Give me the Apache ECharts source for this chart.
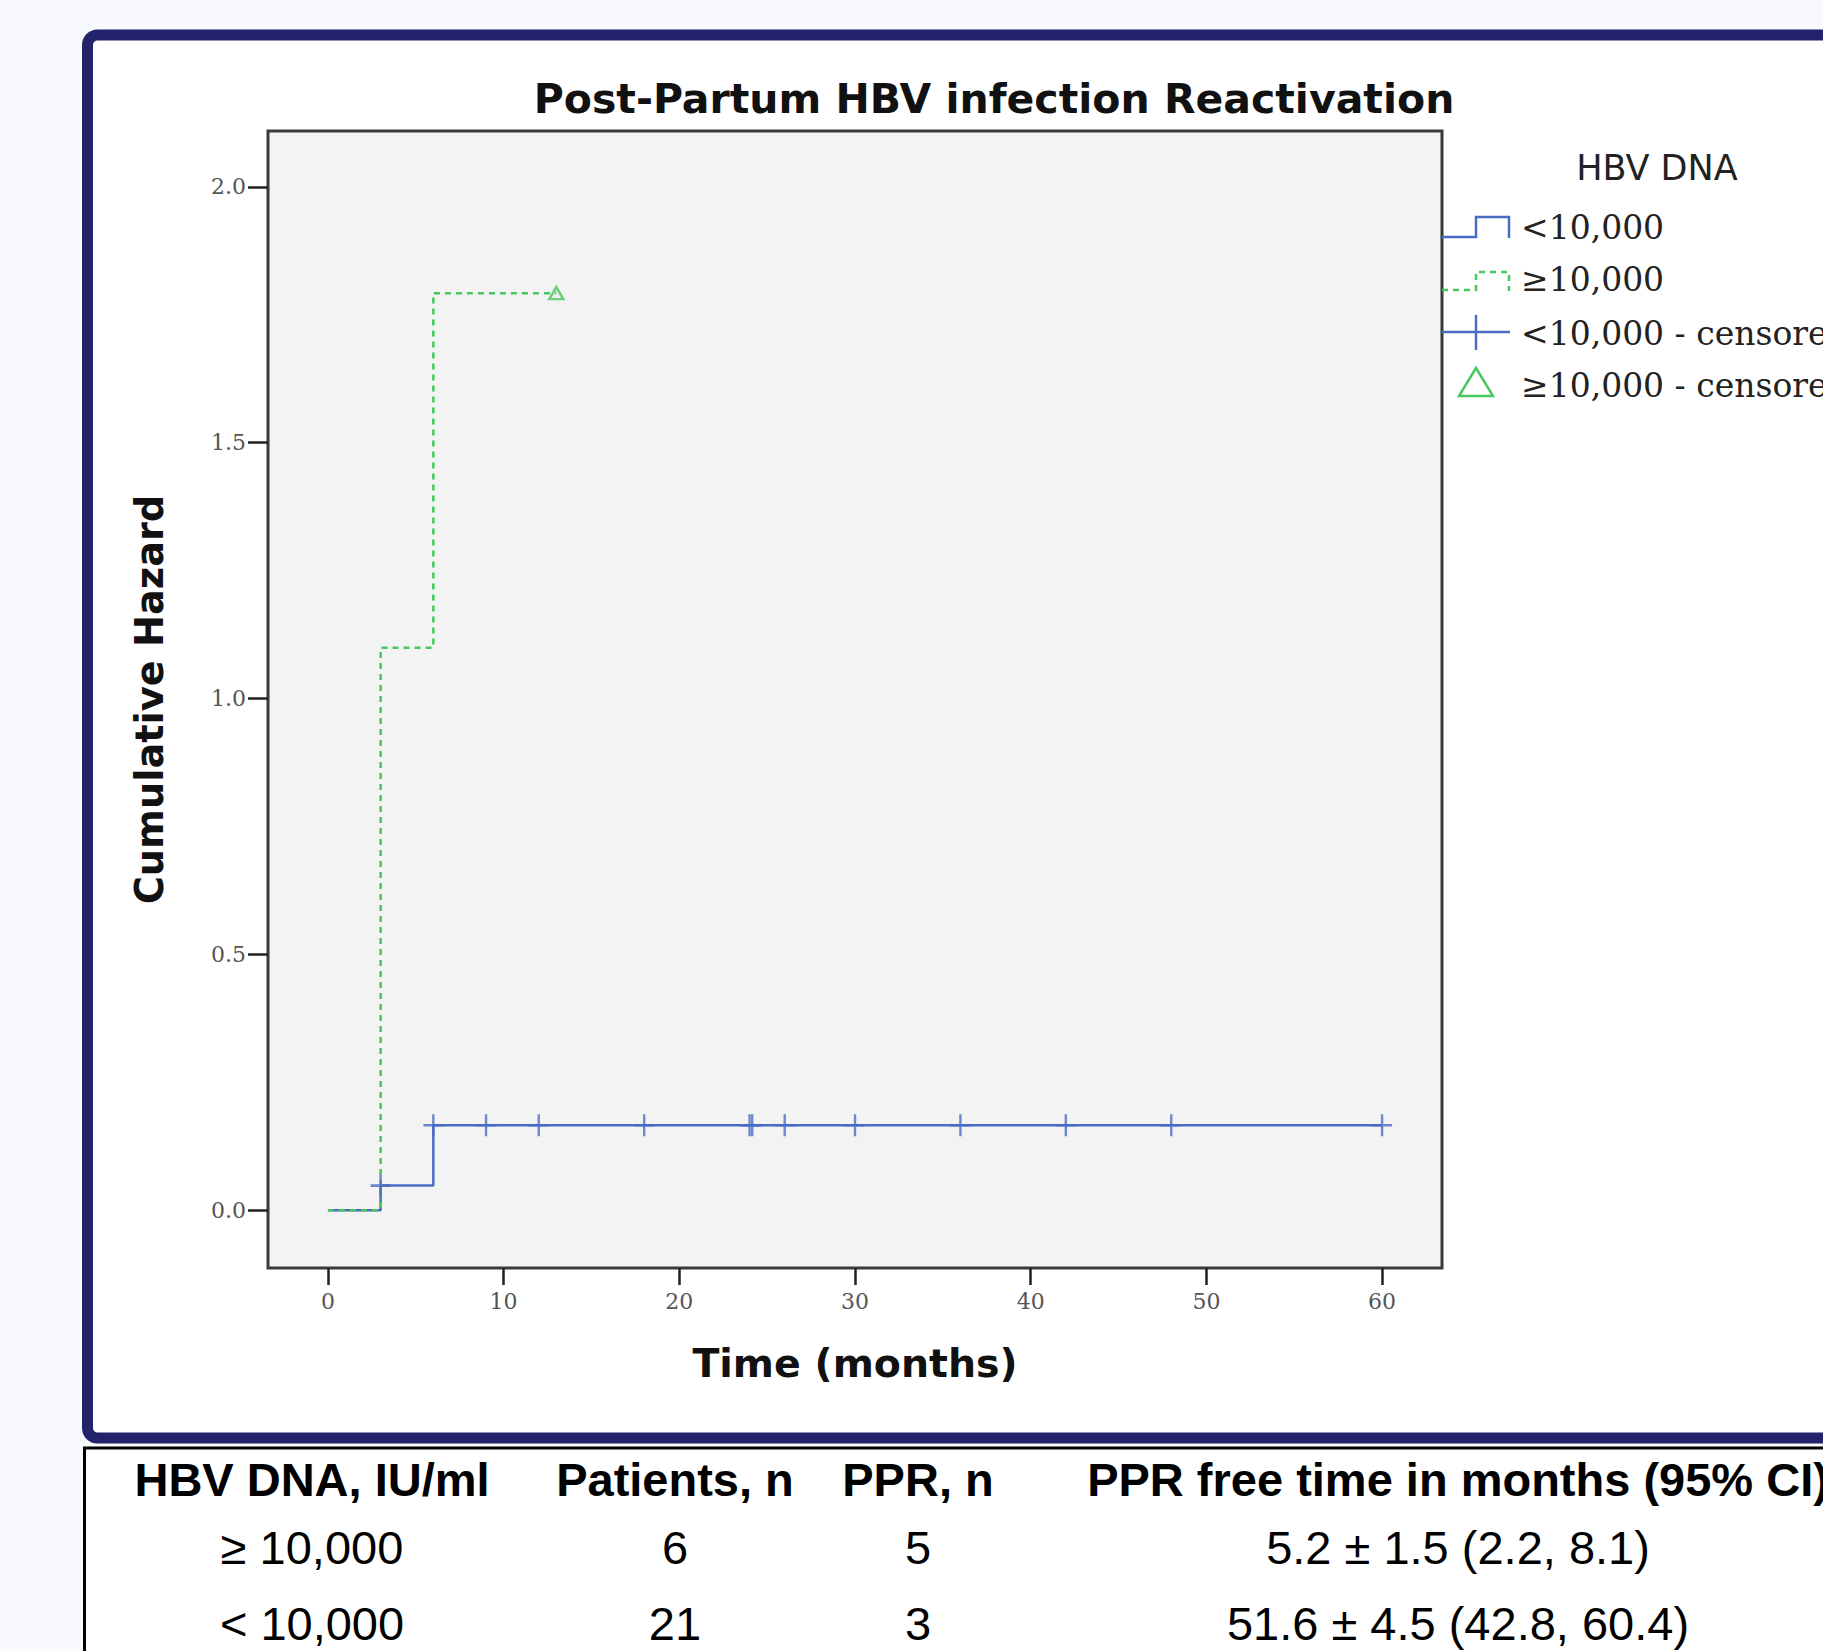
<!DOCTYPE html>
<html>
<head>
<meta charset="utf-8">
<script src="https://cdn.jsdelivr.net/npm/echarts@6/dist/echarts.min.js"></script>
<style>
html,body{margin:0;padding:0;background:#f8f9fd;}
#chart{width:1823px;height:1651px;}
</style>
</head>
<body>
<div id="chart"></div>
<script>
// ---- data ----
const xTicks = [0, 10, 20, 30, 40, 50, 60];
const yTicks = [0, 0.5, 1.0, 1.5, 2.0];

const lowTime = [0, 3, 6, 60];
const lowHazard = [0, 0.048, 0.166, 0.166];
const highTime = [0, 3, 6, 13];
const highHazard = [0, 1.099, 1.792, 1.792];

const lowCensorTime = [3, 6, 9, 12, 18, 24, 24.15, 26, 30, 36, 42, 48, 60];
const lowCensorHazard = [0.048, 0.166, 0.166, 0.166, 0.166, 0.166, 0.166, 0.166, 0.166, 0.166, 0.166, 0.166, 0.166];
const highCensorTime = [13];
const highCensorHazard = [1.792];

const legendTitle = 'HBV DNA';
const legendLabels = ['<10,000', '\u226510,000', '<10,000 - censored', '\u226510,000 - censored'];

const tableHeader = ['HBV DNA, IU/ml', 'Patients, n', 'PPR, n', 'PPR free time in months (95% CI)'];
const tableRow1 = ['\u2265 10,000', '6', '5', '5.2 \u00b1 1.5 (2.2, 8.1)'];
const tableRow2 = ['< 10,000', '21', '3', '51.6 \u00b1 4.5 (42.8, 60.4)'];

// ---- build ----
const zip = (a, b) => a.map((v, i) => [v, b[i]]);
const BLUE = '#4a6cc4';
const GREEN = '#46c85e';

const chart = echarts.init(document.getElementById('chart'), null, {renderer: 'svg'});

const colX = [312, 675, 918, 1458];
const rowY = [1479, 1547, 1623];
const tableTexts = [];
[tableHeader, tableRow1, tableRow2].forEach((row, r) => {
  row.forEach((t, c) => {
    tableTexts.push({
      type: 'text', x: colX[c], y: rowY[r], z: 10,
      style: {text: t, align: 'center', verticalAlign: 'middle',
        font: (r === 0 ? 'bold ' : '') + '47px "Liberation Sans", Arial, sans-serif', fill: '#000'}
    });
  });
});

const legX = 1521;
const legY = [227, 279, 333, 385];
const legendGraphics = [
  {type: 'text', x: 1657, y: 168, z: 10, style: {text: legendTitle, align: 'center', verticalAlign: 'middle', font: '35px "DejaVu Sans", sans-serif', fill: '#222'}},
  {type: 'polyline', z: 10, shape: {points: [[1442, 237], [1476, 237], [1476, 217], [1509, 217], [1509, 238]]}, style: {stroke: BLUE, lineWidth: 2.5, fill: 'none'}},
  {type: 'polyline', z: 10, shape: {points: [[1442, 290], [1476, 290], [1476, 272], [1509, 272], [1509, 291]]}, style: {stroke: GREEN, lineWidth: 2.5, fill: 'none', lineDash: [6, 5]}},
  {type: 'line', z: 10, shape: {x1: 1442, y1: 332, x2: 1510, y2: 332}, style: {stroke: BLUE, lineWidth: 2.5}},
  {type: 'line', z: 10, shape: {x1: 1476, y1: 315, x2: 1476, y2: 350}, style: {stroke: BLUE, lineWidth: 2.5}},
  {type: 'polygon', z: 10, shape: {points: [[1476, 368], [1493, 396], [1459, 396]]}, style: {stroke: GREEN, lineWidth: 2.5, fill: 'none'}}
];
legendLabels.forEach((t, i) => {
  legendGraphics.push({type: 'text', x: legX, y: legY[i], z: 10,
    style: {text: t, align: 'left', verticalAlign: 'middle', font: '33px "DejaVu Serif", serif', fill: '#222'}});
});

const option = {
  backgroundColor: '#f8f9fd',
  animation: false,
  grid: {left: 268, top: 131, width: 1174, height: 1137, show: true,
    backgroundColor: '#f3f3f3', borderColor: '#3a3a3a', borderWidth: 3, containLabel: false},
  xAxis: {
    type: 'value', min: -3.41, max: 63.41, position: 'bottom',
    name: 'Time (months)', nameLocation: 'middle', nameGap: 75,
    nameTextStyle: {fontFamily: 'DejaVu Sans', fontWeight: 'bold', fontSize: 39.5, color: '#111'},
    axisLine: {show: false, onZero: false},
    splitLine: {show: false},
    axisTick: {show: true, inside: false, customValues: xTicks, length: 17, lineStyle: {color: '#222', width: 2.5}},
    axisLabel: {show: true, customValues: xTicks, margin: 22, fontFamily: 'DejaVu Serif', fontSize: 22, color: '#555',
      formatter: v => String(v)}
  },
  yAxis: {
    type: 'value', min: -0.113, max: 2.109, position: 'left',
    name: 'Cumulative Hazard', nameLocation: 'middle', nameGap: 100,
    nameTextStyle: {fontFamily: 'DejaVu Sans', fontWeight: 'bold', fontSize: 38.3, color: '#111'},
    axisLine: {show: false, onZero: false},
    splitLine: {show: false},
    axisTick: {show: true, inside: false, customValues: yTicks, length: 20, lineStyle: {color: '#222', width: 2.5}},
    axisLabel: {show: true, customValues: yTicks, margin: 22, fontFamily: 'DejaVu Serif', fontSize: 22, color: '#555',
      formatter: v => v.toFixed(1)}
  },
  series: [
    {type: 'line', name: legendLabels[0], step: 'end', data: zip(lowTime, lowHazard), showSymbol: false, symbol: 'none',
      lineStyle: {color: BLUE, width: 2.5}, z: 3},
    {type: 'line', name: legendLabels[1], step: 'end', data: zip(highTime, highHazard), showSymbol: false, symbol: 'none',
      lineStyle: {color: GREEN, width: 2.5, type: [6, 5]}, z: 4},
    {type: 'scatter', name: legendLabels[2], data: zip(lowCensorTime, lowCensorHazard),
      symbol: 'path://M10,0L10,22M0,11L20,11', symbolSize: [20, 22],
      itemStyle: {color: 'none', borderColor: BLUE, borderWidth: 2.5}, z: 5},
    {type: 'scatter', name: legendLabels[3], data: zip(highCensorTime, highCensorHazard),
      symbol: 'triangle', symbolSize: [14, 12],
      itemStyle: {color: 'none', borderColor: GREEN, borderWidth: 2.5}, z: 5}
  ],
  graphic: [
    {type: 'rect', z: -20, shape: {x: 87.5, y: 35, width: 1900, height: 1403, r: [10, 0, 0, 10]},
      style: {fill: '#ffffff', stroke: '#23236b', lineWidth: 11}},
    {type: 'rect', z: -20, shape: {x: 84.5, y: 1448, width: 1900, height: 400},
      style: {fill: '#ffffff', stroke: '#000000', lineWidth: 3}},
    {type: 'text', x: 994, y: 99, z: 10, style: {text: 'Post-Partum HBV infection Reactivation', align: 'center', verticalAlign: 'middle',
      font: 'bold 41px "DejaVu Sans", sans-serif', fill: '#111'}}
  ].concat(legendGraphics, tableTexts)
};
chart.setOption(option);
</script>
</body>
</html>
